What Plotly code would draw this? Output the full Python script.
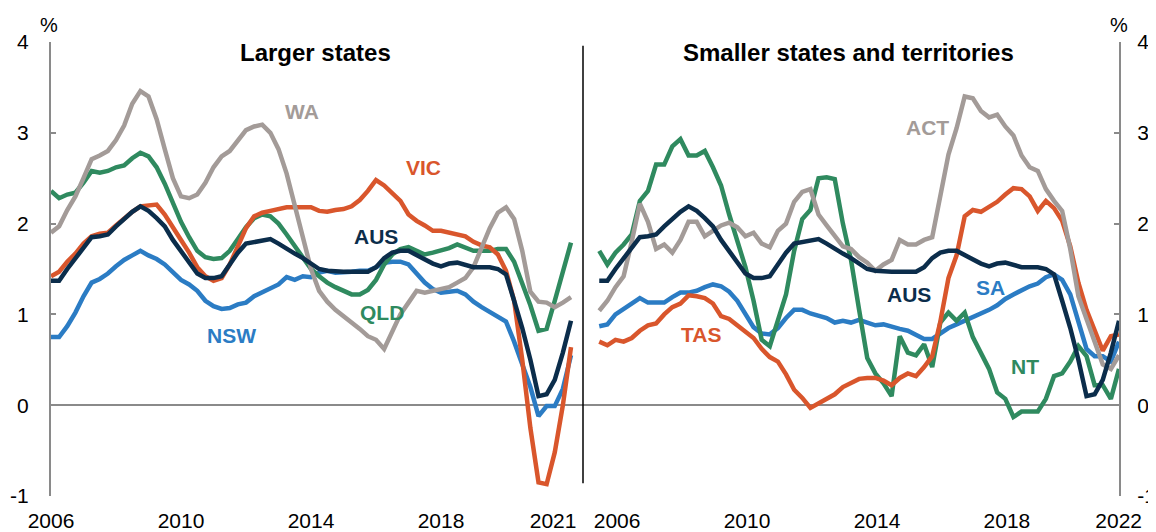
import plotly.graph_objects as go

# Quarterly, year-ended population growth (%)
quarters = [2006 + 0.25 * i for i in range(65)]

aus = [1.37, 1.37, 1.50, 1.62, 1.75, 1.85, 1.86, 1.88, 1.97, 2.05, 2.13, 2.19, 2.14, 2.06, 1.97, 1.82,
       1.70, 1.58, 1.45, 1.40, 1.40, 1.42, 1.55, 1.68, 1.78, 1.80, 1.82, 1.83, 1.78, 1.72, 1.67, 1.62,
       1.56, 1.50, 1.48, 1.47, 1.47, 1.47, 1.47, 1.47, 1.52, 1.62, 1.68, 1.70, 1.70, 1.65, 1.60, 1.56,
       1.53, 1.56, 1.57, 1.55, 1.52, 1.52, 1.52, 1.50, 1.44, 1.15, 0.85, 0.50, 0.10, 0.12, 0.28, 0.58,
       0.93]

nsw = [0.75, 0.75, 0.87, 1.02, 1.20, 1.35, 1.39, 1.45, 1.53, 1.60, 1.65, 1.70, 1.65, 1.61, 1.55, 1.47,
       1.38, 1.33, 1.26, 1.15, 1.09, 1.06, 1.07, 1.11, 1.13, 1.20, 1.24, 1.29, 1.33, 1.41, 1.38, 1.42,
       1.41, 1.46, 1.48, 1.46, 1.46, 1.47, 1.48, 1.48, 1.52, 1.57, 1.58, 1.58, 1.55, 1.45, 1.35, 1.28,
       1.24, 1.25, 1.26, 1.22, 1.14, 1.08, 1.03, 0.97, 0.92, 0.70, 0.45, 0.20, -0.12, -0.01, -0.01, 0.18,
       0.55]

vic = [1.42, 1.47, 1.58, 1.67, 1.78, 1.86, 1.89, 1.90, 1.98, 2.06, 2.13, 2.19, 2.20, 2.21, 2.10, 1.95,
       1.82, 1.68, 1.52, 1.42, 1.37, 1.40, 1.55, 1.75, 1.95, 2.08, 2.12, 2.14, 2.16, 2.18, 2.18, 2.18,
       2.18, 2.14, 2.13, 2.15, 2.16, 2.19, 2.26, 2.36, 2.48, 2.42, 2.34, 2.25, 2.10, 2.03, 1.98, 1.92,
       1.92, 1.90, 1.88, 1.86, 1.80, 1.76, 1.74, 1.66, 1.48, 1.15, 0.50, -0.25, -0.85, -0.87, -0.52, 0.00,
       0.64]

qld = [2.36, 2.28, 2.32, 2.34, 2.45, 2.58, 2.56, 2.58, 2.62, 2.64, 2.72, 2.78, 2.74, 2.62, 2.44, 2.22,
       2.02, 1.85, 1.70, 1.63, 1.61, 1.62, 1.70, 1.83, 1.96, 2.06, 2.10, 2.08, 2.00, 1.88, 1.76, 1.62,
       1.50, 1.42, 1.35, 1.30, 1.26, 1.22, 1.22, 1.27, 1.38, 1.55, 1.66, 1.72, 1.74, 1.70, 1.66, 1.68,
       1.70, 1.73, 1.77, 1.74, 1.70, 1.70, 1.70, 1.72, 1.72, 1.58, 1.35, 1.10, 0.82, 0.84, 1.15, 1.45,
       1.79]

wa = [1.90, 1.97, 2.15, 2.30, 2.50, 2.71, 2.75, 2.80, 2.92, 3.08, 3.32, 3.46, 3.40, 3.15, 2.82, 2.50,
      2.30, 2.28, 2.32, 2.45, 2.62, 2.74, 2.80, 2.92, 3.03, 3.07, 3.09, 3.00, 2.82, 2.55, 2.20, 1.80,
      1.50, 1.26, 1.14, 1.05, 0.98, 0.92, 0.84, 0.76, 0.72, 0.62, 0.82, 1.00, 1.13, 1.26, 1.24, 1.26,
      1.28, 1.30, 1.35, 1.40, 1.52, 1.75, 1.95, 2.12, 2.18, 2.05, 1.70, 1.25, 1.14, 1.13, 1.08, 1.13,
      1.19]

sa = [0.87, 0.89, 1.00, 1.06, 1.12, 1.18, 1.13, 1.13, 1.13, 1.19, 1.24, 1.24, 1.26, 1.30, 1.33, 1.31,
      1.25, 1.15, 1.00, 0.86, 0.79, 0.78, 0.85, 0.96, 1.05, 1.05, 1.01, 0.98, 0.96, 0.91, 0.93, 0.91,
      0.94, 0.91, 0.88, 0.89, 0.86, 0.84, 0.82, 0.78, 0.73, 0.73, 0.79, 0.85, 0.89, 0.93, 0.96, 1.00,
      1.05, 1.10, 1.17, 1.22, 1.27, 1.31, 1.34, 1.41, 1.44, 1.38, 1.22, 0.90, 0.62, 0.54, 0.54, 0.48,
      0.70]

tas = [0.70, 0.66, 0.72, 0.70, 0.74, 0.82, 0.88, 0.90, 1.00, 1.08, 1.12, 1.21, 1.20, 1.18, 1.12, 0.98,
       0.95, 0.88, 0.80, 0.74, 0.62, 0.53, 0.48, 0.34, 0.17, 0.08, -0.03, 0.02, 0.07, 0.12, 0.20, 0.24,
       0.29, 0.30, 0.30, 0.27, 0.22, 0.30, 0.35, 0.32, 0.42, 0.54, 0.92, 1.40, 1.65, 2.08, 2.15, 2.13,
       2.18, 2.24, 2.32, 2.39, 2.38, 2.30, 2.14, 2.25, 2.17, 2.03, 1.75, 1.35, 1.05, 0.82, 0.60, 0.76,
       0.78]

act = [1.04, 1.15, 1.30, 1.42, 1.80, 2.22, 2.02, 1.72, 1.77, 1.68, 1.82, 2.02, 2.02, 1.86, 1.92, 1.98,
       2.01, 1.96, 1.86, 1.90, 1.78, 1.74, 1.92, 2.00, 2.24, 2.35, 2.38, 2.10, 1.98, 1.86, 1.75, 1.72,
       1.63, 1.57, 1.48, 1.55, 1.60, 1.82, 1.77, 1.77, 1.82, 1.85, 2.30, 2.76, 3.05, 3.40, 3.38, 3.24,
       3.17, 3.20, 3.07, 2.97, 2.75, 2.62, 2.58, 2.38, 2.25, 2.14, 1.72, 1.20, 0.95, 0.70, 0.45, 0.40,
       0.55]

nt = [1.70, 1.55, 1.68, 1.77, 1.88, 2.25, 2.36, 2.65, 2.65, 2.85, 2.93, 2.75, 2.75, 2.80, 2.62, 2.42,
      2.10, 1.80, 1.52, 1.15, 0.72, 0.65, 0.95, 1.22, 1.70, 2.05, 2.15, 2.50, 2.51, 2.49, 2.00, 1.60,
      1.05, 0.52, 0.35, 0.24, 0.10, 0.76, 0.58, 0.55, 0.67, 0.42, 0.91, 1.02, 0.93, 1.02, 0.75, 0.58,
      0.40, 0.14, 0.07, -0.13, -0.07, -0.07, -0.07, 0.07, 0.32, 0.35, 0.48, 0.65, 0.54, 0.22, 0.22, 0.07,
      0.40]

left_ticks = [2006, 2010, 2014, 2018, 2021.45]
left_ticktext = ["2006", "2010", "2014", "2018", "2021"]
right_ticks = [2006.55, 2010.55, 2014.55, 2018.55, 2021.99]
right_ticktext = ["2006", "2010", "2014", "2018", "2022"]
y_ticks = [-1, 0, 1, 2, 3, 4]
y_ticktext = ["-1", "0", "1", "2", "3", "4"]

NAVY = "#0b2d4b"
BLUE = "#2b7cc4"
ORANGE = "#d9562c"
GREEN = "#2f8a5f"
GREY = "#a39b98"
AXIS = "#8a8a8a"
FONT = "Liberation Sans, Arial, sans-serif"
LW = 4.5

fig = go.Figure()

left_series = [("NSW", nsw, BLUE), ("QLD", qld, GREEN), ("VIC", vic, ORANGE), ("WA", wa, GREY), ("AUS", aus, NAVY)]
right_series = [("SA", sa, BLUE), ("NT", nt, GREEN), ("TAS", tas, ORANGE), ("ACT", act, GREY), ("AUS", aus, NAVY)]

for name, vals, col in left_series:
    fig.add_trace(go.Scatter(x=quarters, y=vals, mode="lines", name=name,
                             line=dict(color=col, width=LW), xaxis="x", yaxis="y", showlegend=False))
for name, vals, col in right_series:
    fig.add_trace(go.Scatter(x=quarters, y=vals, mode="lines", name=name,
                             line=dict(color=col, width=LW), xaxis="x2", yaxis="y2", showlegend=False))

split = 532 / 1068

xcommon = dict(showgrid=False, zeroline=False, showline=False, ticks="", automargin=False,
               tickfont=dict(family=FONT, size=21, color="black"), ticklabelstandoff=10)
ycommon = dict(range=[-1, 4], tickvals=y_ticks, ticktext=y_ticktext, showgrid=False, showline=True,
               linecolor=AXIS, linewidth=2, ticks="inside", ticklen=5, tickwidth=2, tickcolor=AXIS,
               automargin=False, zeroline=True, zerolinecolor=AXIS, zerolinewidth=2,
               tickfont=dict(family=FONT, size=21, color="black"))

# The page body adds an 8px offset, so the figure is 8px smaller than the window
fig.update_layout(
    width=1148, height=524, autosize=False,
    margin=dict(l=43, r=37, t=34, b=36),
    plot_bgcolor="white", paper_bgcolor="white",
    xaxis=dict(domain=[0, split], range=[2006.0, 2006.0 + 532 / 32.5], anchor="y",
               tickvals=left_ticks, ticktext=left_ticktext, **xcommon),
    xaxis2=dict(domain=[split, 1], range=[2005.5, 2022.0], anchor="y2",
                tickvals=right_ticks, ticktext=right_ticktext, **xcommon),
    yaxis=dict(anchor="x", side="left", ticklabelstandoff=16, **ycommon),
    yaxis2=dict(anchor="x2", side="right", ticklabelstandoff=12, **ycommon),
)

# Divider between panels
fig.add_shape(type="line", xref="paper", yref="y", x0=split, x1=split, y0=-0.86, y1=3.96,
              line=dict(color="black", width=1.5))

def lab(text, x, y, col, xref, yref, size=21):
    fig.add_annotation(text=f"<b>{text}</b>", x=x, y=y, xref=xref, yref=yref, showarrow=False,
                       font=dict(family=FONT, size=size, color=col), xanchor="center", yanchor="middle")

# Panel titles
lab("Larger states", 0.2472, 0.9758, "black", "paper", "paper", size=24)
lab("Smaller states and territories", 0.7463, 0.9758, "black", "paper", "paper", size=24)

# Series labels
lab("WA", 2013.72, 3.24, GREY, "x", "y")
lab("VIC", 2017.45, 2.62, ORANGE, "x", "y")
lab("AUS", 2016.0, 1.86, NAVY, "x", "y")
lab("QLD", 2016.18, 1.02, GREEN, "x", "y")
lab("NSW", 2011.54, 0.77, BLUE, "x", "y")
lab("ACT", 2016.12, 3.06, GREY, "x2", "y2")
lab("AUS", 2015.54, 1.22, NAVY, "x2", "y2")
lab("SA", 2018.03, 1.30, BLUE, "x2", "y2")
lab("TAS", 2009.13, 0.78, ORANGE, "x2", "y2")
lab("NT", 2019.11, 0.43, GREEN, "x2", "y2")

# Unit labels
for xp in (-0.002, 1.0):
    fig.add_annotation(text="%", x=xp, y=1.0374, xref="paper", yref="paper", showarrow=False,
                       font=dict(family=FONT, size=20, color="black"), xanchor="center", yanchor="middle")

fig.write_html("out.html")
